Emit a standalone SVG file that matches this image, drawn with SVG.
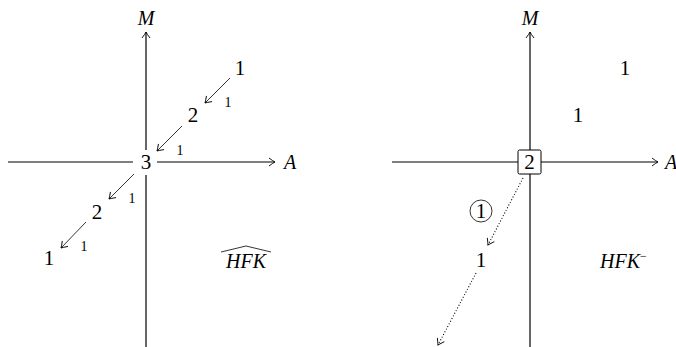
<svg xmlns="http://www.w3.org/2000/svg" width="676" height="347" viewBox="0 0 676 347">
<style>
.n{font-size:21px}
.s{font-size:14px}
.v{font-size:20px;font-style:italic}
.ax{stroke:#000;stroke-width:1.2;fill:none}
.ar{stroke:#000;stroke-width:0.8;fill:none}
.dt{stroke:#000;stroke-width:1.1;fill:none;stroke-dasharray:1 2}
</style>
<defs>
<marker id="h" markerUnits="userSpaceOnUse" markerWidth="14" markerHeight="14" viewBox="-7 -7 14 14" refX="0" refY="0" orient="auto">
<path d="M-6,-4 Q-2,-1 0,0 Q-2,1 -6,4" fill="none" stroke="#000" stroke-width="0.9"/>
</marker>
</defs>
<g id="connectors">
<path class="ax" d="M8,162H133"/>
<path class="ax" d="M157,162H275" marker-end="url(#h)"/>
<path class="ax" d="M146,150V32" marker-end="url(#h)"/>
<path class="ax" d="M146,175V347"/>
<path class="ar" d="M230,78L205,103" marker-end="url(#h)"/>
<path class="ar" d="M182,126L157,151" marker-end="url(#h)"/>
<path class="ar" d="M134,174L109,199" marker-end="url(#h)"/>
<path class="ar" d="M86,222L61,248" marker-end="url(#h)"/>
<path class="ax" d="M392,162H518"/>
<path class="ax" d="M541,162H658" marker-end="url(#h)"/>
<path class="ax" d="M530,150V32" marker-end="url(#h)"/>
<path class="ax" d="M530,174V347"/>
<path class="dt" d="M523,178L488,245" marker-end="url(#h)"/>
<path class="dt" d="M476,273L438,345" marker-end="url(#h)"/>
</g>
<g font-family="Liberation Serif, Times New Roman, Times, serif" fill="#000" text-anchor="middle">
<g id="left-axes-labels">
<text class="v" x="146" y="25">M</text>
<text class="v" x="290" y="169">A</text>
</g>
<g id="L1a"><text class="n" x="240" y="75">1</text></g>
<g id="L2a"><text class="n" x="193" y="122">2</text></g>
<g id="L3"><text class="n" x="146" y="169">3</text></g>
<g id="L2b"><text class="n" x="97" y="219">2</text></g>
<g id="L1b"><text class="n" x="49" y="265">1</text></g>
<g id="left-edge-labels">
<text class="s" x="228" y="107">1</text>
<text class="s" x="180" y="155">1</text>
<text class="s" x="132" y="203">1</text>
<text class="s" x="84" y="251">1</text>
</g>
<g id="HFKhat">
<text class="v" x="246" y="268">HFK</text>
<path d="M221,252L246,246L271,252" fill="none" stroke="#000" stroke-width="0.8"/>
</g>
<g id="right-axes-labels">
<text class="v" x="530" y="25">M</text>
<text class="v" x="665" y="169" text-anchor="start">A</text>
</g>
<g id="R1a"><text class="n" x="625" y="75">1</text></g>
<g id="R1b"><text class="n" x="578" y="122">1</text></g>
<g id="R2">
<rect x="518" y="150" width="23" height="24" rx="1.5" fill="#fff" stroke="#000" stroke-width="1"/>
<text class="n" x="529.5" y="169">2</text>
</g>
<g id="R1c"><text class="n" x="481" y="267">1</text></g>
<g id="circled">
<circle cx="481" cy="211" r="11" fill="none" stroke="#000" stroke-width="0.8"/>
<text class="n" x="481" y="218">1</text>
</g>
<g id="HFKminus">
<text class="v" x="600" y="268" text-anchor="start">HFK<tspan font-size="12" font-style="normal" dy="-8">−</tspan></text>
</g>
</g>
</svg>
